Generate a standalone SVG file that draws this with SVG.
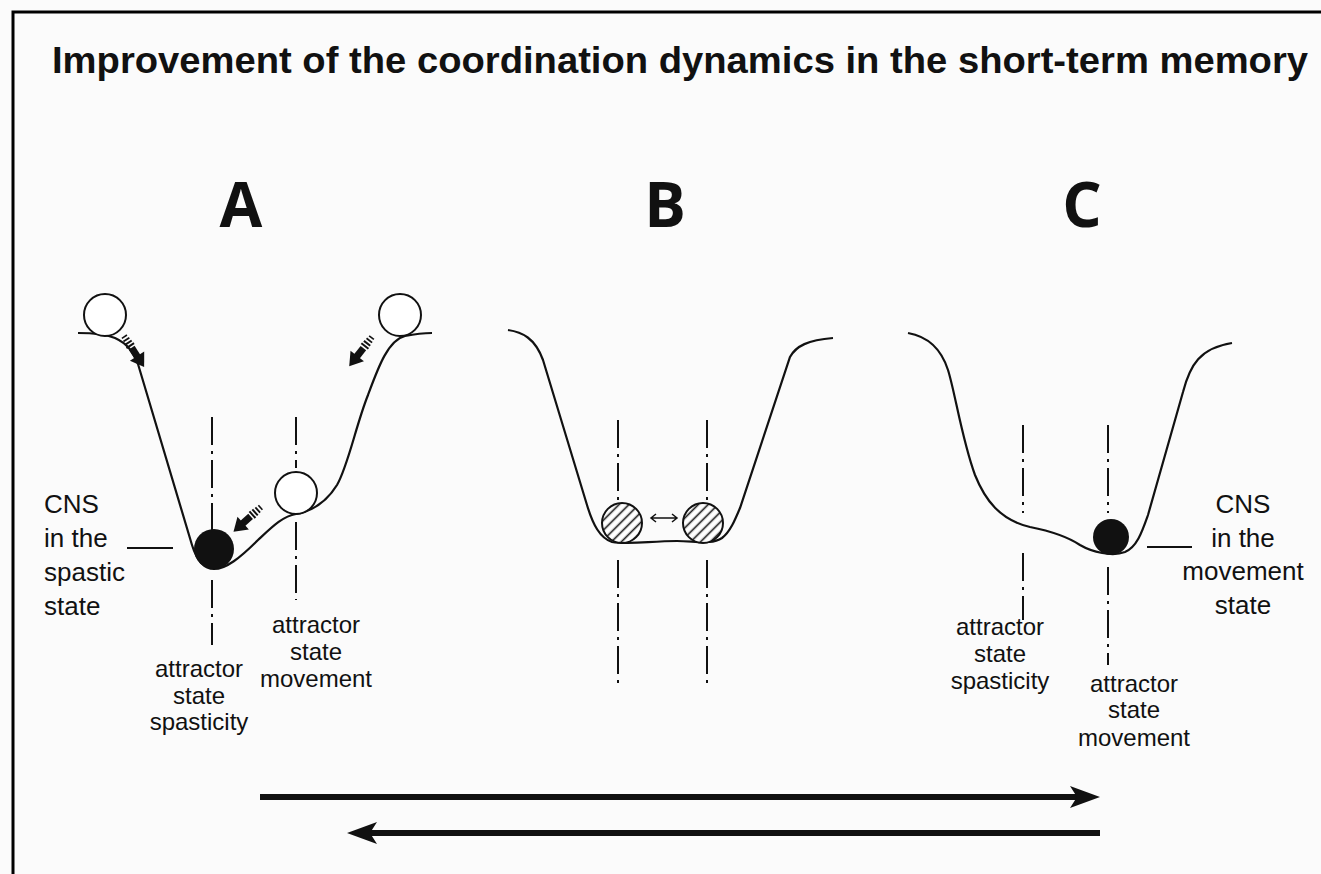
<svg xmlns="http://www.w3.org/2000/svg" width="1321" height="874" viewBox="0 0 1321 874">
<defs>
<style>
.t{font-family:"Liberation Sans",Arial,sans-serif;fill:#111}
.lbl{font-size:24px;text-anchor:middle}
.cns{font-size:26px}
.big{font-family:"Open Sans","Liberation Sans",sans-serif;font-weight:700;font-size:62px;text-anchor:middle;fill:#111}
.curve{fill:none;stroke:#111;stroke-width:2.2}
.axis{stroke:#111;stroke-width:2;stroke-dasharray:28 6 3 6;fill:none}
.ball{fill:#fff;stroke:#111;stroke-width:2}
.hball{fill:url(#hatch);stroke:#111;stroke-width:2}
.tick{stroke:#111;stroke-width:2}
</style>
<pattern id="hatch" width="7" height="7" patternUnits="userSpaceOnUse" patternTransform="rotate(-45)">
<rect width="7" height="7" fill="#fff"/>
<line x1="0" y1="3.5" x2="7" y2="3.5" stroke="#111" stroke-width="1.6"/>
</pattern>
<g id="harrow">
<rect x="0" y="-3" width="1.6" height="6" fill="#111"/>
<rect x="3.5" y="-3.5" width="1.8" height="7" fill="#111"/>
<rect x="7" y="-4" width="2" height="8" fill="#111"/>
<rect x="10.5" y="-4.5" width="2" height="9" fill="#111"/>
<rect x="14" y="-3.5" width="12" height="7" fill="#111"/>
<polygon points="24,-8.5 37,0 24,8.5" fill="#111"/>
</g>
</defs>
<rect width="1321" height="874" fill="#fbfbfb"/>
<path d="M13,874 V12 H1321" fill="none" stroke="#000" stroke-width="3"/>
<text class="t" x="52" y="73" font-size="36" font-weight="700" textLength="1256" lengthAdjust="spacingAndGlyphs">Improvement of the coordination dynamics in the short-term memory</text>

<g id="panelA">
<text class="big" x="241" y="227">A</text>
<path class="curve" d="M78,333 C92,333 105,334 115,338 C128,344 133,352 138,364 L192,545 C196,558 203,569 214,569 C226,569 240,558 258,540 C272,527 283,516 296,514 C312,511 326,503 337,485 C348,466 356,425 368,395 C378,368 388,340 405,336 C415,334 425,333 432,333"/>
<circle class="ball" cx="105" cy="315" r="21"/>
<circle class="ball" cx="400" cy="315" r="21"/>
<circle class="ball" cx="296" cy="493" r="21"/>
<circle cx="214" cy="549" r="20" fill="#111"/>
<use href="#harrow" transform="translate(124,336) rotate(57)"/>
<use href="#harrow" transform="translate(372,337) rotate(128)"/>
<use href="#harrow" transform="translate(261,507) rotate(138)"/>
<path class="axis" d="M212,417 V530 M212,580 V645"/>
<path class="axis" d="M296,417 V468 M296,522 V600"/>
<line class="tick" x1="127" y1="548" x2="173" y2="548"/>
<text class="t cns" x="44"><tspan x="44" y="513">CNS</tspan><tspan x="44" y="547">in the</tspan><tspan x="44" y="581">spastic</tspan><tspan x="44" y="615">state</tspan></text>
<text class="t lbl"><tspan x="199" y="677">attractor</tspan><tspan x="199" y="704">state</tspan><tspan x="199" y="730">spasticity</tspan></text>
<text class="t lbl"><tspan x="316" y="633">attractor</tspan><tspan x="316" y="660">state</tspan><tspan x="316" y="687">movement</tspan></text>
</g>

<g id="panelB">
<text class="big" x="665" y="227">B</text>
<path class="curve" d="M508,330 C522,332 535,338 543,360 L587,505 C593,525 600,538 612,542 C630,545 650,541 677,541 C695,541 712,545 722,538 C730,532 735,520 740,508 L790,357 C796,346 808,340 833,338"/>
<circle class="hball" cx="622" cy="523" r="20"/>
<circle class="hball" cx="703" cy="523" r="20"/>
<path class="axis" d="M618,420 V500 M618,560 V683"/>
<path class="axis" d="M707,420 V500 M707,560 V683"/>
<path d="M651,518 H677 M656,514 L651,518 L656,522 M672,514 L677,518 L672,522" fill="none" stroke="#111" stroke-width="1.5"/>
</g>

<g id="panelC">
<text class="big" x="1082" y="227">C</text>
<path class="curve" d="M908,333 C925,336 940,345 948,370 C955,392 962,440 975,475 C985,500 1000,520 1030,527 C1055,532 1068,537 1080,545 C1092,552 1112,557 1125,552 C1137,547 1142,532 1148,515 L1183,392 C1190,365 1200,348 1232,343"/>
<circle cx="1111" cy="537" r="18" fill="#111"/>
<path class="axis" d="M1023,425 V513 M1023,553 V620"/>
<path class="axis" d="M1108,425 V513 M1108,567 V665"/>
<line class="tick" x1="1147" y1="547" x2="1192" y2="547"/>
<text class="t cns" text-anchor="middle" font-size="28"><tspan x="1243" y="513">CNS</tspan><tspan x="1243" y="547">in the</tspan><tspan x="1243" y="580">movement</tspan><tspan x="1243" y="614">state</tspan></text>
<text class="t lbl"><tspan x="1000" y="635">attractor</tspan><tspan x="1000" y="662">state</tspan><tspan x="1000" y="689">spasticity</tspan></text>
<text class="t lbl"><tspan x="1134" y="692">attractor</tspan><tspan x="1134" y="718">state</tspan><tspan x="1134" y="746">movement</tspan></text>
</g>

<g id="connectors">
<line x1="260" y1="797" x2="1080" y2="797" stroke="#111" stroke-width="6"/>
<polygon points="1070,786 1100,797 1070,808 1077,797" fill="#111"/>
<line x1="1100" y1="833" x2="367" y2="833" stroke="#111" stroke-width="6"/>
<polygon points="377,822 347,833 377,844 370,833" fill="#111"/>
</g>
</svg>
